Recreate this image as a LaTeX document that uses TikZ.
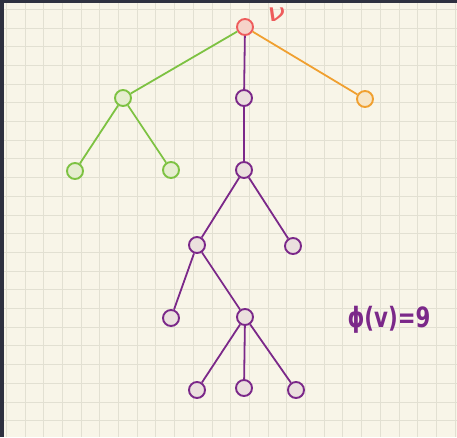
\documentclass[tikz,border=0pt]{standalone}
\usepackage{amsmath}
\usepackage{fontspec}
\newfontfamily\markerfont{DejaVu Sans}
\usetikzlibrary{positioning}
\definecolor{paper}{RGB}{248,245,232}
\definecolor{gridline}{RGB}{226,224,210}
\definecolor{frame}{RGB}{46,49,64}
\definecolor{tgreen}{RGB}{125,194,66}
\definecolor{tpurple}{RGB}{123,40,137}
\definecolor{torange}{RGB}{240,160,48}
\definecolor{tred}{RGB}{238,92,92}
\tikzset{
    vtx/.style={circle, minimum size=16pt, inner sep=0pt, line width=1.9pt},
    gvtx/.style={vtx, draw=tgreen, fill=tgreen!15!paper},
    pvtx/.style={vtx, draw=tpurple, fill=tpurple!10!paper},
    ovtx/.style={vtx, draw=torange, fill=torange!18!paper},
    rvtx/.style={vtx, draw=tred, fill=tred!22!paper},
    tedge/.style={line width=1.8pt},
    scrawl/.style={font=\markerfont\bfseries\fontsize{#1}{#1}\selectfont, inner sep=0pt}
}

\begin{document}
\begin{tikzpicture}[x=1pt, y=-1pt]
    \useasboundingbox (0,0) rectangle (457,437);
    % Paper with grid
    \fill[paper] (0,0) rectangle (457,437);
    \foreach \k in {0,...,24} {
        \draw[gridline, line width=1pt] (6.3+18.7*\k, 0) -- (6.3+18.7*\k, 437);
        \draw[gridline, line width=1pt] (0, 9.3+18.7*\k) -- (457, 9.3+18.7*\k);
    }
    \fill[frame] (0,0) rectangle (4,437);
    \fill[frame] (0,0) rectangle (457,3);

    % Root
    \node[rvtx] (r) at (245,27) {};
    \node[font=\markerfont\itshape\fontsize{25}{25}\selectfont, inner sep=0pt, text=tred, anchor=base, xscale=1.3] (rlabel) at (276,21) {ν};

    % Green subtree
    \node[gvtx] (g1) at (123,98) {};
    \node[gvtx] (g2) at (75,171) {};
    \node[gvtx] (g3) at (171,170) {};

    % Orange leaf
    \node[ovtx] (o1) at (365,99) {};

    % Purple subtree
    \node[pvtx] (p1) at (244,98) {};
    \node[pvtx] (p2) at (244,170) {};
    \node[pvtx] (p3) at (197,245) {};
    \node[pvtx] (p4) at (293,246) {};
    \node[pvtx] (p5) at (171,318) {};
    \node[pvtx] (p6) at (245,317) {};
    \node[pvtx] (p7) at (197,390) {};
    \node[pvtx] (p8) at (244,388) {};
    \node[pvtx] (p9) at (296,390) {};

    % Edges
    \draw[tedge, tgreen] (r) -- (g1);
    \foreach \a/\b in {g1/g2, g1/g3}
        \draw[tedge, tgreen] (\a) -- (\b);
    \draw[tedge, torange] (r) -- (o1);
    \foreach \a/\b in {r/p1, p1/p2, p2/p3, p2/p4, p3/p5, p3/p6, p6/p7, p6/p8, p6/p9}
        \draw[tedge, tpurple] (\a) -- (\b);

    % Potential
    \node[scrawl=28, text=tpurple, xscale=0.76] (phi) at (389,320) {ϕ(v)=9};
\end{tikzpicture}
\end{document}
